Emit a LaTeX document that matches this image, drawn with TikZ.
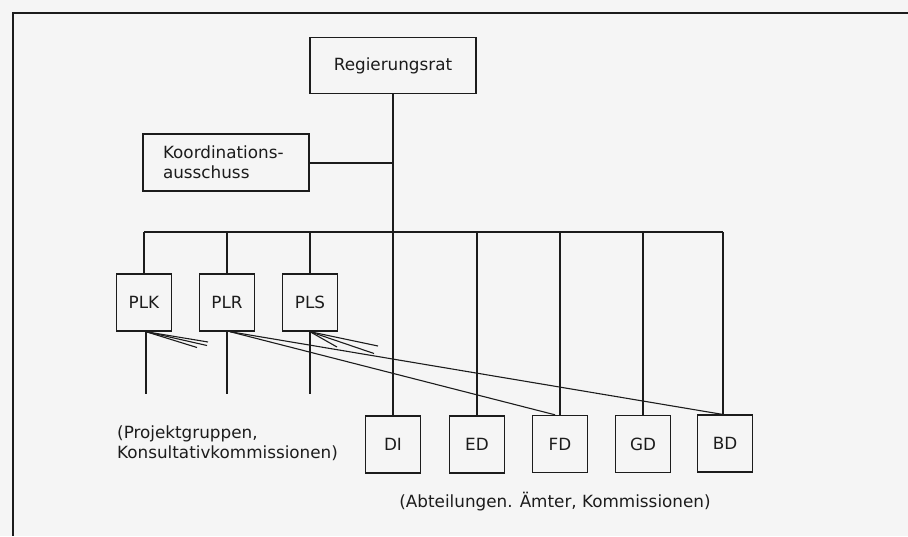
\documentclass[tikz,border=0pt]{standalone}
\usepackage{fontspec}
\setmainfont{DejaVu Sans}
\definecolor{ink}{RGB}{28,28,28}
\definecolor{paper}{RGB}{245,245,245}
\begin{document}
\begin{tikzpicture}[x=1pt,y=-1pt,
  every node/.style={font=\fontsize{16.8}{20}\selectfont, text=ink},
  org/.style={draw=ink, line width=1.4pt, rectangle, inner sep=0pt},
  bigbox/.style={org, minimum width=166pt, minimum height=56pt},
  smallbox/.style={org, minimum width=55pt, minimum height=57pt},
  wire/.style={draw=ink, line width=1.3pt},
  thin/.style={draw=ink, line width=1.1pt}]
\useasboundingbox[fill=paper] (0,0) rectangle (908,536);
% frame
\coordinate (fTR) at (908,13);
\coordinate (fTL) at (13,13);
\coordinate (fBL) at (13,536);
\draw[wire] (fTR) -- (fTL) -- (fBL);
% top nodes
\node[bigbox] (reg) at (393,65.5) {Regierungsrat};
\node[bigbox, minimum height=57pt, align=left, text width=126pt] (koord) at (226,162.5) {Koordinations-\\ausschuss};
% PL boxes
\node[smallbox] (plk) at (144,302.5) {PLK};
\node[smallbox] (plr) at (227,302.5) {PLR};
\node[smallbox] (pls) at (310,302.5) {PLS};
% departments
\node[smallbox] (di) at (393,444.5) {DI};
\node[smallbox] (ed) at (477,444.5) {ED};
\node[smallbox] (fd) at (560,444) {FD};
\node[smallbox] (gd) at (643,444) {GD};
\node[smallbox] (bd) at (725,443.5) {BD};
% labels
\node[anchor=north west, align=left, inner sep=0pt] (projlab) at (117,426) {(Projektgruppen,\\Konsultativkommissionen)};
\node[inner sep=0pt] (abtlab) at (555,502) {(Abteilungen. Ämter, Kommissionen)};
% main connectors
\draw[wire] (reg.south) -- (di.north);
\coordinate (kj) at (393,163);
\draw[wire] (koord.east |- kj) -- (kj);
\coordinate (busL) at (144,232);
\coordinate (busR) at (723,232);
\draw[wire] (busL) -- (busR);
\foreach \n in {plk,plr,pls,ed,fd,gd}
  \draw[wire] (\n.north) -- (\n.north |- busL);
\draw[wire] (busR) -- ([xshift=-2pt]bd.north);
% lines below PL boxes
\coordinate (plkE) at (146,394);
\coordinate (plrE) at (227,394);
\coordinate (plsE) at (310,394);
\draw[wire] ([xshift=2pt]plk.south) -- (plkE);
\draw[wire] (plr.south) -- (plrE);
\draw[wire] (pls.south) -- (plsE);
% fans
\coordinate (k1) at (208,342);
\coordinate (k2) at (207,345.5);
\coordinate (k3) at (197,347.5);
\foreach \c in {k1,k2,k3} \draw[thin] ([xshift=2pt]plk.south) -- (\c);
\coordinate (s1) at (378,346);
\coordinate (s2) at (374,353.5);
\coordinate (s3) at (337,347);
\foreach \c in {s1,s2,s3} \draw[thin] (pls.south) -- (\c);
\draw[thin] ([xshift=3pt]plr.south) -- ([xshift=-3pt]bd.north);
\draw[thin] ([xshift=3pt]plr.south) -- ([xshift=-5pt]fd.north);
\end{tikzpicture}
\end{document}
